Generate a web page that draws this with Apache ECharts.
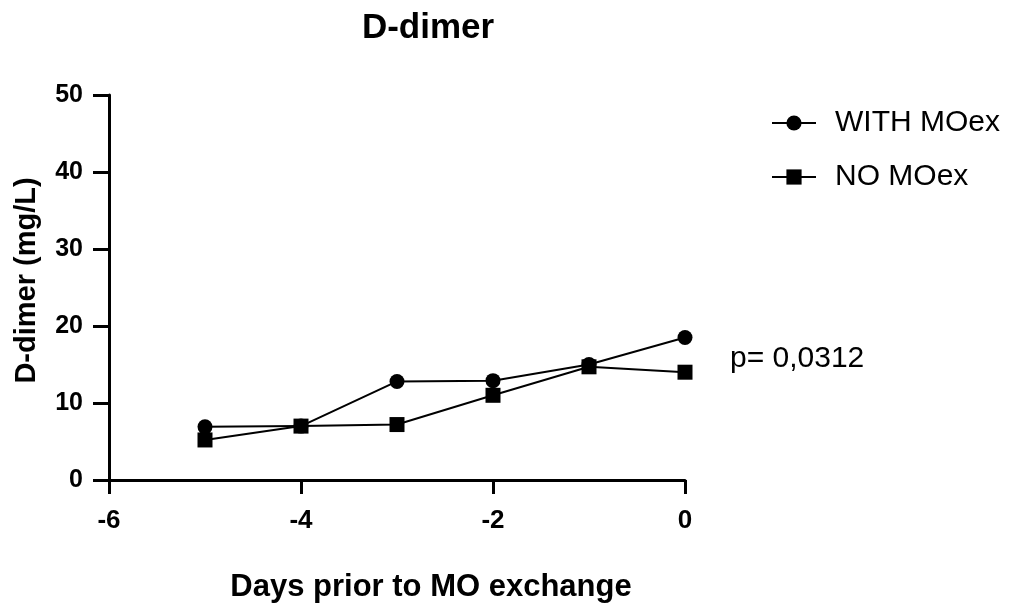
<!DOCTYPE html>
<html>
<head>
<meta charset="utf-8">
<script src="https://cdn.jsdelivr.net/npm/echarts@6/dist/echarts.min.js"></script>
<style>html,body{margin:0;padding:0;background:#fff;}#c{width:1010px;height:608px;}</style>
</head>
<body>
<div id="c"></div>
<script>
const days = [-5, -4, -3, -2, -1, 0];
const withMOex = [6.9, 7.0, 12.8, 12.9, 15.0, 18.5];
const noMOex = [5.2, 7.0, 7.2, 11.0, 14.7, 14.0];
const seriesNames = ['WITH MOex', 'NO MOex'];
const titleText = 'D-dimer';
const xName = 'Days prior to MO exchange';
const yName = 'D-dimer (mg/L)';
const pText = 'p= 0,0312';

const font = 'Liberation Sans, Arial, Helvetica, sans-serif';
const chart = echarts.init(document.getElementById('c'));
const pairs = (xs, ys) => xs.map((x, i) => [x, ys[i]]);
chart.setOption({
  animation: false,
  backgroundColor: '#fff',
  title: {
    text: titleText, left: 423, top: 6, textAlign: 'center',
    textStyle: {fontFamily: font, fontWeight: 'bold', fontSize: 35, color: '#000'}
  },
  legend: {
    left: 766, top: 103, orient: 'vertical', itemGap: 24,
    itemWidth: 44, itemHeight: 19,
    textStyle: {fontFamily: font, fontSize: 30, color: '#000', padding: [0, 0, 0, 14]},
    data: seriesNames
  },
  grid: {left: 109, right: 325, top: 95, bottom: 128},
  xAxis: {
    type: 'value', min: -6, max: 0, interval: 2,
    name: xName, nameLocation: 'middle', nameGap: 92,
    nameTextStyle: {fontFamily: font, fontWeight: 'bold', fontSize: 31, color: '#000', padding: [0, 0, 0, 68]},
    axisLine: {show: true, onZero: false, lineStyle: {color: '#000', width: 3}},
    axisTick: {show: true, length: 14, lineStyle: {color: '#000', width: 3}},
    axisLabel: {fontFamily: font, fontWeight: 'bold', fontSize: 26, color: '#000', margin: 28},
    splitLine: {show: false}
  },
  yAxis: {
    type: 'value', min: 0, max: 50, interval: 10,
    name: yName, nameLocation: 'middle', nameGap: 68, nameRotate: 90,
    nameTextStyle: {fontFamily: font, fontWeight: 'bold', fontSize: 29, color: '#000', padding: [0, 0, 0, 14]},
    axisLine: {show: true, onZero: false, lineStyle: {color: '#000', width: 3}},
    axisTick: {show: true, length: 16, lineStyle: {color: '#000', width: 3}},
    axisLabel: {fontFamily: font, fontWeight: 'bold', fontSize: 25, color: '#000', margin: 26},
    splitLine: {show: false}
  },
  graphic: [{
    type: 'text', left: 730, top: 344,
    style: {text: pText, font: '30px ' + font, fill: '#000'}
  }],
  series: [{
    name: seriesNames[0], type: 'line', data: pairs(days, withMOex),
    symbol: 'circle', symbolSize: 15,
    lineStyle: {color: '#000', width: 2}, itemStyle: {color: '#000'}
  }, {
    name: seriesNames[1], type: 'line', data: pairs(days, noMOex),
    symbol: 'rect', symbolSize: 15,
    lineStyle: {color: '#000', width: 2}, itemStyle: {color: '#000'}
  }]
});
</script>
</body>
</html>
